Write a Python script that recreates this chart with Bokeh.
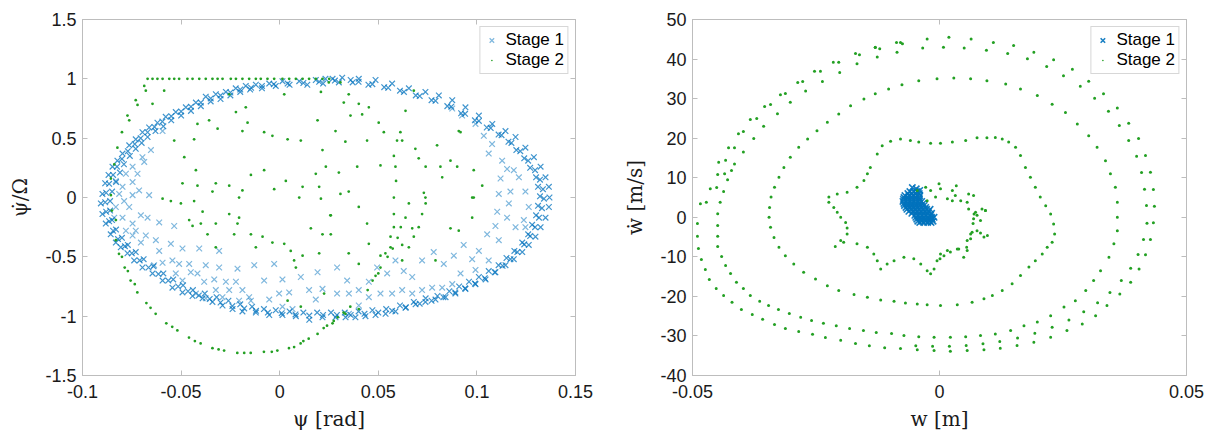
from bokeh.plotting import figure
from bokeh.layouts import row
from bokeh.models import FixedTicker, CustomJSTickFormatter, LinearAxis, Range1d, Legend, CustomLabelingPolicy
from bokeh.embed import file_html
from bokeh.resources import INLINE

BLUE = "#0072BD"
GREEN = "#23A023"
FRAME = "#BDBDBD"
TXT = "#1A1A1A"

# ---------------- tick values ----------------
psi_ticks = [-0.1, -0.05, 0, 0.05, 0.1, 0.15]
psidot_ticks = [-1.5, -1, -0.5, 0, 0.5, 1, 1.5]
w_ticks = [-0.05, 0, 0.05]
wdot_ticks = [-40, -30, -20, -10, 0, 10, 20, 30, 40, 50]

# ---------------- left panel: Stage 1 (psi, psi_dot/Omega) ----------------
psi_s1_ring_outer = [
    (0.0268, 1.00), (0.0183, 0.99), (0.0099, 0.98), (0.0014, 0.98), (-0.0053, 0.96), (-0.0121, 0.95),
    (-0.0172, 0.94), (-0.0223, 0.92), (-0.0273, 0.89), (-0.0324, 0.87), (-0.0375, 0.85), (-0.0425, 0.80),
    (-0.0476, 0.76), (-0.0527, 0.72), (-0.0578, 0.68), (-0.0620, 0.63), (-0.0662, 0.59), (-0.0696, 0.55),
    (-0.0730, 0.49), (-0.0763, 0.44), (-0.0797, 0.37), (-0.0823, 0.31), (-0.0848, 0.26), (-0.0868, 0.19),
    (-0.0885, 0.12), (-0.0899, 0.03), (-0.0907, -0.05), (-0.0899, -0.14), (-0.0882, -0.22), (-0.0857, -0.31),
    (-0.0831, -0.38), (-0.0806, -0.42), (-0.0772, -0.47), (-0.0738, -0.53), (-0.0696, -0.59), (-0.0645, -0.64),
    (-0.0594, -0.70), (-0.0544, -0.76), (-0.0493, -0.80), (-0.0442, -0.83), (-0.0391, -0.85), (-0.0341, -0.88),
    (-0.0290, -0.91), (-0.0239, -0.94), (-0.0189, -0.96), (-0.0121, -0.97), (-0.0053, -0.99), (0.0014, -0.99),
    (0.0082, -1.00), (0.0150, -1.03), (0.0217, -1.01), (0.0283, -1.01), (0.0334, -1.01), (0.0384, -1.01),
    (0.0435, -1.00), (0.0486, -0.99), (0.0537, -0.98), (0.0587, -0.96), (0.0638, -0.93), (0.0689, -0.90),
    (0.0739, -0.88), (0.0790, -0.86), (0.0841, -0.84), (0.0891, -0.81), (0.0942, -0.77), (0.0993, -0.73),
    (0.1044, -0.69), (0.1094, -0.63), (0.1145, -0.57), (0.1187, -0.52), (0.1230, -0.46), (0.1263, -0.40),
    (0.1297, -0.33), (0.1323, -0.25), (0.1348, -0.17), (0.1365, -0.08), (0.1368, 0.00), (0.1365, 0.09),
    (0.1348, 0.17), (0.1323, 0.26), (0.1289, 0.34), (0.1246, 0.42), (0.1196, 0.51), (0.1145, 0.56),
    (0.1078, 0.62), (0.1010, 0.69), (0.0942, 0.76), (0.0875, 0.82), (0.0807, 0.86), (0.0739, 0.89),
    (0.0655, 0.92), (0.0570, 0.96), (0.0486, 0.99), (0.0401, 1.00), (0.0317, 1.01), (0.0232, 1.00),
]
psi_s1_ring_mid = [
    (0.036, 0.99), (0.028, 0.985), (0.020, 0.975), (0.012, 0.965), (0.004, 0.96), (-0.003, 0.955),
    (-0.009, 0.94), (-0.0145, 0.925), (-0.020, 0.91), (-0.025, 0.885), (-0.030, 0.86), (-0.035, 0.835),
    (-0.040, 0.80), (-0.045, 0.765), (-0.050, 0.725), (-0.055, 0.685), (-0.0595, 0.64), (-0.0635, 0.595),
    (-0.067, 0.55), (-0.0705, 0.50), (-0.0735, 0.45), (-0.077, 0.39), (-0.080, 0.325), (-0.0825, 0.26),
    (-0.0845, 0.19), (-0.0865, 0.115), (-0.088, 0.04), (-0.0885, -0.04), (-0.088, -0.12), (-0.0865, -0.20),
    (-0.0845, -0.28), (-0.082, -0.35), (-0.0785, -0.41), (-0.075, -0.47), (-0.071, -0.53), (-0.0665, -0.59),
    (-0.0615, -0.645), (-0.0565, -0.70), (-0.0515, -0.75), (-0.0465, -0.79), (-0.041, -0.825), (-0.0355, -0.855),
    (-0.030, -0.885), (-0.024, -0.915), (-0.018, -0.935), (-0.012, -0.955), (-0.006, -0.97), (0.001, -0.975),
    (0.008, -0.985), (0.015, -0.995), (0.022, -0.99), (0.029, -0.99), (0.036, -0.99), (0.043, -0.98),
    (0.050, -0.97), (0.057, -0.955), (0.064, -0.925), (0.071, -0.895), (0.077, -0.87), (0.083, -0.84),
    (0.089, -0.80), (0.094, -0.765), (0.099, -0.725), (0.104, -0.68), (0.109, -0.63), (0.113, -0.575),
    (0.117, -0.52), (0.1205, -0.46), (0.124, -0.395), (0.127, -0.325), (0.1295, -0.25), (0.1315, -0.17),
    (0.133, -0.09), (0.134, -0.01), (0.1335, 0.07), (0.132, 0.15), (0.1295, 0.23), (0.126, 0.31),
    (0.122, 0.39), (0.1175, 0.46), (0.1125, 0.525), (0.107, 0.585), (0.101, 0.645), (0.094, 0.705),
    (0.087, 0.765), (0.079, 0.815), (0.071, 0.855), (0.063, 0.89), (0.055, 0.925), (0.047, 0.955),
    (0.040, 0.975),
]
psi_s1_ring_inner = [
    (0.030, 0.97), (0.022, 0.96), (0.014, 0.95), (0.005, 0.95), (-0.002, 0.94), (-0.009, 0.92),
    (-0.015, 0.91), (-0.020, 0.89), (-0.025, 0.86), (-0.030, 0.83), (-0.035, 0.81), (-0.040, 0.77),
    (-0.045, 0.73), (-0.050, 0.69), (-0.055, 0.65), (-0.059, 0.60), (-0.063, 0.56), (-0.067, 0.51),
    (-0.070, 0.46), (-0.073, 0.41), (-0.076, 0.35), (-0.079, 0.28), (-0.081, 0.21), (-0.083, 0.13),
    (-0.085, 0.05), (-0.086, -0.03), (-0.086, -0.11), (-0.085, -0.19), (-0.083, -0.27), (-0.080, -0.34),
    (-0.077, -0.40), (-0.073, -0.46), (-0.069, -0.52), (-0.064, -0.58), (-0.059, -0.64), (-0.054, -0.69),
    (-0.049, -0.74), (-0.044, -0.78), (-0.038, -0.81), (-0.032, -0.84), (-0.026, -0.87), (-0.020, -0.90),
    (-0.014, -0.92), (-0.008, -0.94), (-0.002, -0.95), (0.005, -0.96), (0.012, -0.97), (0.019, -0.97),
    (0.026, -0.97), (0.033, -0.97), (0.040, -0.96), (0.047, -0.95), (0.054, -0.94), (0.061, -0.91),
    (0.068, -0.88), (0.074, -0.85), (0.080, -0.83), (0.086, -0.79), (0.091, -0.75), (0.096, -0.71),
    (0.101, -0.67), (0.106, -0.62), (0.111, -0.57), (0.115, -0.51), (0.119, -0.45), (0.123, -0.38),
    (0.126, -0.31), (0.128, -0.23), (0.130, -0.15), (0.131, -0.07), (0.132, 0.01), (0.131, 0.09),
    (0.130, 0.17), (0.127, 0.25), (0.124, 0.33), (0.120, 0.40), (0.116, 0.47), (0.111, 0.53),
    (0.105, 0.59), (0.099, 0.65), (0.092, 0.71), (0.085, 0.77), (0.077, 0.82), (0.069, 0.86),
    (0.061, 0.90), (0.053, 0.93), (0.045, 0.95), (0.037, 0.97),
]
psi_s1_interior = [
    (-0.0696, 0.34), (-0.0687, 0.30), (-0.0746, 0.13), (-0.0713, 0.06), (-0.0662, 0.02), (-0.0704, -0.15),
    (-0.0670, -0.17), (-0.0611, -0.21), (-0.0535, -0.24), (-0.0746, -0.32), (-0.0704, -0.38), (-0.0679, -0.32),
    (-0.0628, -0.36), (-0.0552, -0.39), (-0.0493, -0.43), (-0.0408, -0.43), (-0.0307, -0.45), (-0.0611, -0.45),
    (-0.0544, -0.53), (-0.0510, -0.56), (-0.0459, -0.56), (-0.0451, -0.63), (-0.0417, -0.64), (-0.0375, -0.57),
    (-0.0307, -0.59), (-0.0214, -0.60), (-0.0129, -0.57), (-0.0028, -0.56), (-0.0637, -0.57), (-0.0594, -0.55),
    (-0.0527, -0.64), (-0.0493, -0.70), (-0.0383, -0.71), (-0.0332, -0.69), (-0.0273, -0.71), (-0.0222, -0.71),
    (-0.0324, -0.78), (-0.0256, -0.78), (-0.0189, -0.78), (-0.0155, -0.84), (-0.0079, -0.70), (0.0014, -0.69),
    (0.0107, -0.67), (0.0192, -0.63), (-0.0425, -0.81), (-0.0375, -0.85), (-0.0290, -0.84), (-0.0206, -0.87),
    (-0.0146, -0.87), (-0.0053, -0.86), (-0.0003, -0.81), (0.0048, -0.80), (0.0014, -0.92), (0.0065, -0.94),
    (0.0149, -0.78), (0.0217, -0.77), (0.0183, -0.86),
    (-0.0797, 0.09), (-0.0814, 0.03), (-0.0789, -0.03), (-0.0831, -0.08), (-0.0839, -0.17), (-0.0797, -0.17),
    (-0.0763, -0.08), (-0.0746, -0.22), (-0.0780, -0.28), (-0.0730, -0.28), (-0.0746, 0.26), (-0.0780, 0.20),
    (-0.0721, 0.20), (-0.0746, 0.02), (-0.0831, 0.14), (-0.0594, 0.56), (-0.0653, 0.40),
    (0.0291, -0.59), (0.0342, -0.70), (0.0291, -0.81), (0.0351, -0.81), (0.0401, -0.78), (0.0452, -0.71),
    (0.0494, -0.59), (0.0545, -0.64), (0.0587, -0.53), (0.0629, -0.62), (0.0672, -0.67), (0.0722, -0.53),
    (0.0781, -0.46), (0.0832, -0.56), (0.0883, -0.49), (0.0933, -0.40), (0.0976, -0.52), (0.1010, -0.45),
    (0.1052, -0.31), (0.1094, -0.24), (0.1103, -0.12), (0.1111, 0.03), (0.1120, 0.16), (0.1128, 0.31),
    (0.1153, 0.24), (0.1187, 0.23), (0.1213, 0.17), (0.1170, 0.05), (0.1162, -0.05), (0.1246, 0.05),
    (0.1263, -0.08), (0.1238, -0.19), (0.1246, -0.25), (0.1196, -0.25), (0.1153, -0.17), (0.1111, -0.36),
    (0.1060, -0.53), (0.0993, -0.61), (0.0917, -0.64), (0.0875, -0.73), (0.0824, -0.76), (0.0773, -0.76),
    (0.0722, -0.78), (0.0672, -0.81), (0.0621, -0.78), (0.0570, -0.81), (0.0511, -0.81), (0.0452, -0.84),
    (0.0401, -0.91), (0.0351, -0.98), (0.1060, 0.37), (0.1077, 0.45), (0.1035, 0.52), (0.0993, 0.62),
    (0.0925, 0.69), (0.0875, 0.75),
]

# ---------------- left panel: Stage 2 ----------------
psi_s2_top_x = [-0.0670, -0.0645, -0.0620, -0.0594, -0.0560, -0.0535, -0.0510, -0.0468, -0.0442, -0.0408,
                -0.0375, -0.0341, -0.0315, -0.0290, -0.0248, -0.0222, -0.0189, -0.0155, -0.0121, -0.0096,
                -0.0062, -0.0028, 0.0014, 0.0048, 0.0082, 0.0116, 0.0149, 0.0183, 0.0217, 0.0251]
psi_s2_top_y = [1.0] * len(psi_s2_top_x)
psi_s2_arc = [
    (-0.0687, 0.94), (-0.0679, 0.90), (-0.0730, 0.82), (-0.0721, 0.78), (-0.0772, 0.69), (-0.0763, 0.65),
    (-0.0800, 0.55), (-0.0823, 0.42), (-0.0839, 0.28), (-0.0856, 0.16), (-0.0856, 0.02), (-0.0851, -0.11),
    (-0.0831, -0.19), (-0.0831, -0.36), (-0.0815, -0.475), (-0.0786, -0.59), (-0.0756, -0.70), (-0.0722, -0.80),
    (-0.0676, -0.89), (-0.0629, -0.98), (-0.0575, -1.06), (-0.0519, -1.12), (-0.0460, -1.18), (-0.0401, -1.23),
    (-0.0341, -1.27), (-0.0282, -1.29), (-0.0215, -1.31), (-0.0147, -1.31), (-0.0080, -1.30), (-0.0012, -1.29),
    (0.0047, -1.27), (0.0073, -1.26), (0.0106, -1.23), (0.0147, -1.19), (0.0192, -1.15), (0.0223, -1.10),
    (0.0268, -1.06), (0.0294, -1.01), (0.0324, -0.97), (0.0358, -0.92), (0.0446, -0.78), (0.0471, -0.70),
    (0.0500, -0.64), (0.0547, -0.50), (0.0573, -0.43), (0.0598, -0.34), (0.0614, -0.25),
    (-0.0800, -0.50), (-0.0770, -0.62), (-0.0735, -0.73), (-0.0655, -0.93), (-0.0545, -1.09), (-0.0430, -1.21),
    (-0.0310, -1.28), (-0.0180, -1.31), (-0.0040, -1.30), (0.0120, -1.21), (0.0240, -1.08), (0.0274, -1.04),
    (0.0333, -0.98), (0.0401, -0.94),
]
psi_s2_columns = [
    (0.0680, 0.90), (0.0638, 0.73), (0.0612, 0.55), (0.0595, 0.48), (0.0579, 0.35), (0.0587, 0.26),
    (0.0590, 0.14), (0.0579, 0.00), (0.0579, -0.14), (0.0579, -0.25), (0.0562, -0.33), (0.0562, -0.42),
    (0.0536, -0.47), (0.0511, -0.59), (0.0486, -0.66),
    (0.0740, 0.26), (0.0731, 0.04), (0.0740, -0.05), (0.0722, -0.14), (0.0705, -0.25), (0.0680, -0.33),
    (0.0655, -0.42), (0.0621, -0.53),
    (0.0908, 0.56), (0.0984, 0.23), (0.1027, 0.10), (0.0984, 0.00), (0.0976, -0.17), (0.0908, -0.28),
    (0.0866, -0.26), (0.0790, -0.53),
]
psi_s2_scatter = [
    (-0.0586, 0.90), (-0.0645, 0.79), (-0.0535, 0.48), (-0.0484, 0.34), (-0.0434, 0.49), (-0.0417, 0.62),
    (-0.0358, 0.65), (-0.0315, 0.58), (-0.0256, 0.87), (-0.0222, 0.72), (-0.0172, 0.76), (-0.0163, 0.63),
    (-0.0189, 0.56), (-0.0079, 0.55), (-0.0037, 0.52), (0.0023, 0.87), (0.0040, 0.49), (0.0107, 0.48),
    (0.0192, 0.65), (0.0209, 0.89), (0.0217, 0.40), (0.0234, 0.26), (0.0200, 0.09), (0.0183, 0.20),
    (0.0116, 0.09), (0.0099, 0.00), (0.0031, 0.14), (-0.0028, 0.07), (-0.0079, 0.23), (-0.0146, 0.19),
    (-0.0189, 0.06), (-0.0206, 0.00), (-0.0256, 0.10), (-0.0324, 0.12), (-0.0341, 0.05), (-0.0417, 0.10),
    (-0.0434, -0.03), (-0.0493, 0.12), (-0.0501, -0.05), (-0.0594, -0.01), (-0.0552, -0.03), (-0.0442, -0.24),
    (-0.0400, -0.22), (-0.0391, -0.12), (-0.0366, -0.31), (-0.0324, -0.42), (-0.0256, -0.14), (-0.0214, -0.22),
    (-0.0206, -0.17), (-0.0231, -0.31), (-0.0146, -0.31), (-0.0121, -0.42), (-0.0087, -0.33), (-0.0037, -0.38),
    (0.0023, -0.39), (0.0056, -0.45), (0.0116, -0.49), (0.0200, -0.47), (0.0158, -0.26), (0.0259, -0.15),
    (0.0209, -0.01), (0.0259, -0.31), (0.0073, -0.53), (0.0082, -0.59), (0.0040, -0.87), (0.0107, -0.92),
    (0.0225, -0.81), (0.0217, -0.31), (-0.0425, 0.23), (-0.0459, -0.19), (-0.0324, -0.22),
    (0.0350, 0.87), (0.0401, 0.79), (0.0452, 0.76), (0.0325, 0.80), (0.0359, 0.69), (0.0418, 0.70),
    (0.0502, 0.63), (0.0528, 0.55), (0.0443, 0.48), (0.0283, 0.56), (0.0333, 0.47), (0.0300, 0.21),
    (0.0393, 0.26), (0.0511, 0.27), (0.0621, 0.48), (0.0688, 0.41), (0.0705, 0.33), (0.0798, 0.44),
    (0.0815, 0.26), (0.0866, 0.31), (0.0900, 0.26), (0.0824, 0.17), (0.0308, 0.03), (0.0350, 0.05),
    (0.0257, -0.15), (0.0401, -0.08), (0.0443, -0.22), (0.0452, -0.39), (0.0350, -0.47), (0.0401, -0.56),
    (0.0511, -0.49), (0.0638, -0.17), (0.0655, -0.05), (0.0621, -0.40), (0.0739, 0.00), (0.0672, -0.26),
    (0.0976, 0.00), (0.0917, 0.55), (0.0249, 0.97), (0.0308, 0.97),
]

# ---------------- right panel: Stage 1 (w, w_dot) ----------------
w_s1 = [
    (-0.0055, 7.5), (-0.0047, 7.2), (-0.0040, 6.8),
    (-0.0060, 6.5), (-0.0052, 6.5), (-0.0045, 6.5),
    (-0.0064, 6.0), (-0.0056, 6.0), (-0.0048, 6.0), (-0.0041, 6.0),
    (-0.0070, 5.5), (-0.0062, 5.5), (-0.0054, 5.5), (-0.0046, 5.5), (-0.0040, 5.5),
    (-0.0072, 5.0), (-0.0064, 5.0), (-0.0056, 5.0), (-0.0048, 5.0), (-0.0041, 5.0),
    (-0.0073, 4.5), (-0.0065, 4.5), (-0.0057, 4.5), (-0.0049, 4.5), (-0.0041, 4.5),
    (-0.0074, 4.0), (-0.0066, 4.0), (-0.0058, 4.0), (-0.0050, 4.0), (-0.0042, 4.0), (-0.0036, 4.0),
    (-0.0072, 3.5), (-0.0064, 3.5), (-0.0056, 3.5), (-0.0048, 3.5), (-0.0040, 3.5), (-0.0033, 3.5),
    (-0.0071, 3.0), (-0.0063, 3.0), (-0.0055, 3.0), (-0.0047, 3.0), (-0.0039, 3.0), (-0.0031, 3.0),
    (-0.0068, 2.5), (-0.0060, 2.5), (-0.0052, 2.5), (-0.0044, 2.5), (-0.0036, 2.5), (-0.0028, 2.5),
    (-0.0066, 2.0), (-0.0058, 2.0), (-0.0050, 2.0), (-0.0042, 2.0), (-0.0034, 2.0), (-0.0026, 2.0), (-0.0019, 2.0),
    (-0.0062, 1.5), (-0.0054, 1.5), (-0.0046, 1.5), (-0.0038, 1.5), (-0.0030, 1.5), (-0.0022, 1.5),
    (-0.0056, 1.0), (-0.0048, 1.0), (-0.0040, 1.0), (-0.0032, 1.0), (-0.0024, 1.0), (-0.0016, 1.0),
    (-0.0050, 0.5), (-0.0042, 0.5), (-0.0034, 0.5), (-0.0026, 0.5), (-0.0018, 0.5),
    (-0.0048, 0.0), (-0.0040, 0.0), (-0.0032, 0.0), (-0.0024, 0.0), (-0.0016, 0.0), (-0.0011, 0.0),
    (-0.0046, -0.5), (-0.0038, -0.5), (-0.0030, -0.5), (-0.0022, -0.5), (-0.0015, -0.5),
    (-0.0044, -1.0), (-0.0036, -1.0), (-0.0028, -1.0), (-0.0020, -1.0), (-0.0013, -1.0),
    (-0.0040, -1.3), (-0.0032, -1.3), (-0.0024, -1.3), (-0.0017, -1.3),
]

# ---------------- right panel: Stage 2 ----------------
w_s2_star = [
    (-0.0045, 6.8), (-0.0028, 7.6), (-0.0018, 6.8), (-0.0001, 8.5), (0.0002, 7.2), (-0.0008, 5.1),
    (-0.0025, 4.2), (0.0016, 4.7), (0.0026, 6.8), (0.0034, 8.0), (0.0032, 5.5), (0.0026, 4.2),
    (0.0043, 4.2), (0.0059, 5.9), (0.0069, 5.5), (0.0056, 3.8), (0.0059, 2.1), (0.0073, 1.3),
    (0.0086, 2.1), (0.0093, 1.7), (0.0076, 0.5), (0.0069, -0.4), (0.0068, -1.6), (0.0066, -3.8),
    (0.0083, -4.0), (0.0097, -4.6), (0.0090, -5.0), (0.0063, -5.4), (0.0055, -7.6), (0.0049, -10.1),
    (0.0039, -8.0), (0.0022, -8.8), (0.0009, -9.7), (0.0001, -10.5), (0.0093, 1.7), (0.0083, -0.8),
    (0.0070, 0.8), (0.0076, -3.4), (0.0063, -4.2), (0.0056, -5.9), (0.0056, -8.4),
    (0.0036, -8.0), (0.0016, -8.4), (0.0002, -9.3), (-0.0005, -11.0), (-0.0011, -13.1), (-0.0018, -14.3),
    (-0.0025, -13.5), (-0.0038, -11.8), (-0.0052, -10.5), (-0.0072, -10.1), (-0.0092, -11.0), (-0.0106, -11.8),
    (-0.0119, -13.1), (-0.0126, -11.0), (-0.0133, -9.3), (-0.0146, -7.6), (-0.0167, -6.7), (-0.0194, -6.3),
    (-0.0211, -7.4), (-0.0200, -5.9), (-0.0187, -4.2), (-0.0187, -2.7), (-0.0190, -1.3), (-0.0200, 0.0),
    (-0.0207, 1.3), (-0.0214, 2.5), (-0.0224, 3.8), (-0.0224, 5.1), (-0.0207, 5.9), (-0.0187, 6.3),
    (-0.0167, 7.6), (-0.0153, 9.3), (-0.0146, 11.0), (-0.0140, 12.6), (-0.0126, 16.0), (-0.0116, 18.1),
]
w_s2_loop_c = [
    (-0.0099, 19.2), (-0.0079, 19.8), (-0.0059, 19.4), (-0.0042, 19.0), (-0.0018, 18.7), (0.0002, 18.7),
    (0.0026, 19.0), (0.0053, 19.4), (0.0076, 20.1), (0.0096, 20.1), (0.0113, 20.2), (0.0127, 19.8),
    (0.0140, 19.0), (0.0154, 17.7), (0.0164, 15.6), (0.0174, 12.6), (0.0184, 10.1), (0.0194, 7.6),
    (0.0204, 5.1), (0.0215, 2.9), (0.0225, 0.8), (0.0231, -1.7), (0.0233, -4.2), (0.0228, -6.3),
    (0.0218, -7.6), (0.0208, -9.3), (0.0194, -11.0), (0.0181, -12.6), (0.0164, -14.7), (0.0147, -16.8),
    (0.0127, -18.5), (0.0107, -19.8), (0.0090, -20.6), (0.0066, -21.5), (0.0036, -22.1), (0.0002, -22.3),
    (-0.0025, -22.1), (-0.0045, -21.9), (-0.0069, -21.7), (-0.0092, -21.2), (-0.0119, -20.9), (-0.0146, -20.2),
    (-0.0173, -19.5), (-0.0204, -18.5), (-0.0227, -17.3), (-0.0251, -15.6), (-0.0275, -13.9), (-0.0295, -11.8),
    (-0.0312, -9.7), (-0.0325, -7.6), (-0.0335, -5.1), (-0.0342, -2.5), (-0.0345, 0.0), (-0.0344, 2.5),
    (-0.0341, 5.1), (-0.0334, 7.6), (-0.0325, 10.1), (-0.0315, 12.6), (-0.0302, 15.2), (-0.0285, 17.7),
    (-0.0267, 19.8), (-0.0248, 21.9), (-0.0227, 24.0), (-0.0204, 26.1), (-0.0180, 28.2), (-0.0153, 29.9),
    (-0.0130, 31.2), (-0.0103, 32.4), (-0.0076, 33.5), (-0.0042, 34.5), (-0.0005, 35.0), (0.0029, 35.2),
    (0.0063, 35.0), (0.0096, 34.5), (0.0134, 33.7), (0.0164, 32.4), (0.0198, 30.8), (0.0228, 28.6),
    (0.0255, 26.5), (0.0279, 23.6), (0.0302, 20.6), (0.0319, 17.7), (0.0336, 14.3), (0.0346, 11.0),
    (0.0356, 7.6), (0.0360, 3.8), (0.0360, 0.0), (0.0360, -3.4), (0.0353, -6.7), (0.0343, -10.1),
    (0.0326, -13.5), (0.0312, -16.0), (0.0296, -18.5), (0.0275, -21.1), (0.0252, -22.7), (0.0225, -24.9),
    (0.0198, -26.5), (0.0171, -27.4), (0.0144, -28.6), (0.0113, -29.5), (0.0083, -29.9), (0.0053, -30.2),
    (0.0022, -30.3), (-0.0011, -30.3), (-0.0042, -30.2), (-0.0072, -29.9),
]
w_s2_loop_b = [
    (-0.0097, -29.4), (-0.0128, -29.1), (-0.0154, -28.6), (-0.0182, -28.1), (-0.0209, -27.4), (-0.0235, -26.8),
    (-0.0259, -26.1), (-0.0281, -25.3), (-0.0304, -24.3), (-0.0326, -23.3), (-0.0346, -22.3), (-0.0364, -21.2),
    (-0.0383, -19.8), (-0.0397, -18.0), (-0.0411, -16.4), (-0.0423, -14.2), (-0.0433, -12.2), (-0.0441, -9.9),
    (-0.0449, -7.4), (-0.0449, -4.8), (-0.0449, -2.1), (-0.0449, 0.9), (-0.0444, 3.8), (-0.0437, 6.5),
    (-0.0429, 9.5), (-0.0421, 11.8), (-0.0415, 13.5), (-0.0397, 16.5), (-0.0376, 19.9), (-0.0356, 23.0),
    (-0.0328, 26.2), (-0.0302, 29.1), (-0.0271, 31.9), (-0.0237, 34.3), (-0.0202, 36.6), (-0.0167, 38.8),
    (-0.0126, 40.5), (-0.0086, 41.7), (-0.0034, 42.8), (0.0008, 43.0), (0.0050, 42.8), (0.0095, 42.2),
    (0.0138, 41.4), (0.0178, 40.1), (0.0217, 38.1), (0.0251, 35.8), (0.0285, 33.1), (0.0314, 30.1),
    (0.0342, 26.8), (0.0364, 23.2), (0.0383, 19.4), (0.0399, 15.4), (0.0409, 11.3), (0.0415, 7.1),
    (0.0419, 3.0), (0.0420, -1.5), (0.0413, -5.6), (0.0402, -9.4), (0.0387, -12.9), (0.0368, -16.0),
    (0.0345, -19.0), (0.0320, -21.6), (0.0292, -23.9), (0.0262, -26.0), (0.0228, -27.8), (0.0193, -29.3),
    (0.0158, -30.5), (0.0122, -31.4), (0.0088, -32.0), (0.0054, -32.4), (0.0020, -32.6), (-0.0014, -32.6),
    (-0.0048, -32.5),
]
w_s2_loop_a = [
    (-0.0130, 43.0), (-0.0079, 44.2), (-0.0025, 45.1), (0.0019, 45.5), (0.0064, 45.1), (0.0109, 44.2),
    (0.0150, 43.4), (0.0191, 41.7), (0.0231, 39.8), (0.0269, 37.4), (0.0302, 34.4), (0.0332, 31.2),
    (0.0360, 27.6), (0.0383, 23.8), (0.0403, 19.9), (0.0417, 15.6), (0.0427, 11.4), (0.0433, 7.0),
    (0.0435, 2.8), (0.0433, -1.4), (0.0427, -5.6), (0.0417, -9.5), (0.0404, -13.1), (0.0387, -16.4),
    (0.0365, -19.4), (0.0339, -22.3), (0.0316, -24.9), (0.0289, -27.0), (0.0258, -28.6), (0.0225, -30.3),
    (0.0191, -31.6), (0.0157, -32.4), (0.0123, -33.1), (0.0090, -33.5), (0.0056, -33.7), (0.0022, -33.9),
    (-0.0011, -33.7), (-0.0045, -33.5), (-0.0079, -33.2), (-0.0111, -33.0), (-0.0142, -32.5), (-0.0170, -31.9),
    (-0.0200, -31.1), (-0.0231, -30.4), (-0.0257, -29.6), (-0.0285, -28.9), (-0.0312, -28.1), (-0.0334, -27.1),
    (-0.0358, -25.8), (-0.0379, -24.6), (-0.0401, -23.3), (-0.0420, -21.5), (-0.0437, -19.8), (-0.0452, -18.0),
    (-0.0466, -15.7), (-0.0474, -13.2), (-0.0482, -10.7), (-0.0488, -7.9), (-0.0490, -4.8), (-0.0490, -1.6),
    (-0.0484, 3.4), (-0.0464, 7.2), (-0.0449, 10.8), (-0.0447, 13.9), (-0.0427, 17.6), (-0.0407, 21.1),
    (-0.0383, 24.7), (-0.0354, 28.0), (-0.0322, 31.0), (-0.0287, 34.1), (-0.0253, 36.9), (-0.0215, 39.2),
    (-0.0170, 41.4), (-0.0130, 42.9), (-0.0087, 44.2),
    (-0.0472, 3.8), (-0.0451, 7.5), (-0.0435, 11.0), (-0.0433, 14.4), (-0.0415, 17.6), (-0.0397, 21.7),
    (-0.0370, 25.0), (-0.0342, 28.5), (-0.0312, 31.3), (-0.0277, 34.3), (-0.0241, 36.9), (-0.0204, 39.2),
    (-0.0162, 41.1), (-0.0121, 42.6), (-0.0075, 43.9),
]


def xs(pts):
    return [p[0] for p in pts]


def ys(pts):
    return [p[1] for p in pts]


fmt_code = "return String(Math.round(tick*1000)/1000);"
hide_code = "for (const i of indices) { indices.unset(i) }\nreturn indices"


def make_fig(width, xr, yr, xticks, yticks, xlabel, ylabel, mb_left, mb_right):
    p = figure(width=width, height=436, x_range=Range1d(*xr), y_range=Range1d(*yr),
               output_backend="svg", toolbar_location=None,
               min_border_left=mb_left, min_border_right=mb_right,
               min_border_top=19, min_border_bottom=61)
    p.grid.visible = False
    p.outline_line_color = FRAME
    p.background_fill_color = "white"
    p.border_fill_color = "white"
    for ax, ticks, lab in ((p.xaxis[0], xticks, xlabel), (p.yaxis[0], yticks, ylabel)):
        ax.ticker = FixedTicker(ticks=ticks)
        ax.formatter = CustomJSTickFormatter(code=fmt_code)
        ax.major_tick_in = 5
        ax.major_tick_out = 0
        ax.minor_tick_line_color = None
        ax.axis_line_color = FRAME
        ax.major_tick_line_color = FRAME
        ax.major_label_text_font = "Liberation Sans"
        ax.major_label_text_font_size = "18px"
        ax.major_label_text_color = TXT
        ax.axis_label = lab
        ax.axis_label_text_font = "DejaVu Serif"
        ax.axis_label_text_font_size = "20px"
        ax.axis_label_text_font_style = "normal"
        ax.axis_label_text_color = TXT
    p.xaxis[0].major_label_standoff = 9
    p.xaxis[0].axis_label_standoff = 6
    p.yaxis[0].major_label_standoff = 6
    p.yaxis[0].axis_label_standoff = 10
    for loc, ticks in (("right", yticks), ("above", xticks)):
        ax = LinearAxis(ticker=FixedTicker(ticks=ticks),
                        major_label_policy=CustomLabelingPolicy(code=hide_code),
                        major_tick_in=5, major_tick_out=0, minor_tick_line_color=None,
                        axis_line_color=FRAME, major_tick_line_color=FRAME, major_label_standoff=0)
        p.add_layout(ax, loc)
    return p


def add_legend(p, r1, r2):
    leg = Legend(items=[("Stage 1", r1), ("Stage 2", r2)], location="top_right",
                 label_text_font="Liberation Sans", label_text_font_size="17px",
                 label_text_color="black", border_line_color="#B0B0B0",
                 background_fill_color="white", background_fill_alpha=1.0,
                 margin=7, padding=3, spacing=0, glyph_width=16, glyph_height=18,
                 label_height=18, label_standoff=6)
    p.add_layout(leg)


# ---------------- left figure ----------------
p1 = make_fig(600, (-0.1, 0.15), (-1.5, 1.5), psi_ticks, psidot_ticks,
              "ψ [rad]", "ψ\u0307/Ω", 82, 25)
ring_pts = psi_s1_ring_outer + psi_s1_ring_mid + psi_s1_ring_inner
r1a = p1.scatter(xs(ring_pts), ys(ring_pts), marker="x", size=8, line_color=BLUE, line_alpha=0.75, line_width=1.2)
r1b = p1.scatter(xs(psi_s1_interior), ys(psi_s1_interior), marker="x", size=8, line_color=BLUE,
                 line_alpha=0.5, line_width=1.2)
s2x = psi_s2_top_x + xs(psi_s2_arc) + xs(psi_s2_columns) + xs(psi_s2_scatter)
s2y = psi_s2_top_y + ys(psi_s2_arc) + ys(psi_s2_columns) + ys(psi_s2_scatter)
r2 = p1.scatter(s2x, s2y, marker="dot", size=11, line_color=GREEN, fill_color=GREEN, line_width=1)
add_legend(p1, [r1b], [r2])

# ---------------- right figure ----------------
p2 = make_fig(616, (-0.05, 0.05), (-40, 50), w_ticks, wdot_ticks,
              "w [m]", "ẇ [m/s]", 92, 30)
q1 = p2.scatter(xs(w_s1), ys(w_s1), marker="x", size=9, line_color=BLUE, line_alpha=0.9, line_width=1.6)
w2 = w_s2_star + w_s2_loop_c + w_s2_loop_b + w_s2_loop_a
q2 = p2.scatter(xs(w2), ys(w2), marker="dot", size=12, line_color=GREEN, fill_color=GREEN, line_width=1)
add_legend(p2, [q1], [q2])

layout = row(p1, p2)
open("out.html", "w").write(file_html(layout, INLINE))
